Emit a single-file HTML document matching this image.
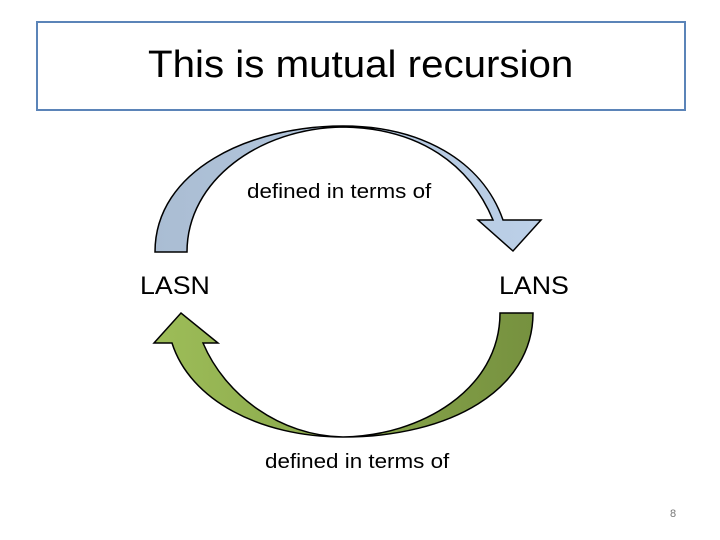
<!DOCTYPE html>
<html><head><style>
body{margin:0;width:720px;height:540px;background:#fff;position:relative;overflow:hidden;font-family:"Liberation Sans",sans-serif}
.t{position:absolute;white-space:nowrap;transform-origin:0 0}
</style></head><body>
<div style="position:absolute;left:36px;top:21px;width:646px;height:86px;border:2.5px solid #5b84b8"></div>
<div class="t" style="left:148px;top:44px;font-size:38px;color:#000;transform:scaleX(1.06)">This is mutual recursion</div>
<svg width="720" height="540" style="position:absolute;left:0;top:0">
<defs>
<linearGradient id="b" x1="0" x2="1"><stop offset="0" stop-color="#aabdd3"/><stop offset="1" stop-color="#bcd0e8"/></linearGradient>
<linearGradient id="g" x1="0" x2="1"><stop offset="0" stop-color="#9dbd58"/><stop offset="1" stop-color="#76913f"/></linearGradient>
</defs>
<path d="M155,252 C155,170 250,126 343,126 C420,126 482,160 503,220 L541,220 L513,251 L478,220 L493,220 C470,165 420,128 343,127 C260,128 187,180 187,252 Z" fill="url(#b)" stroke="#000" stroke-width="1.5"/>
<path d="M500,313 L533,313 C533,390 450,437 343,437 C260,437 190,400 172,343 L154,343 L181,313 L218,343 L203,343 C225,395 280,436 343,437 C420,436 500,390 500,313 Z" fill="url(#g)" stroke="#000" stroke-width="1.5"/>
</svg>
<div class="t" style="left:247px;top:181px;font-size:20px;transform:scaleX(1.12)">defined in terms of</div>
<div class="t" style="left:140px;top:272px;font-size:25px;transform:scaleX(1.07)">LASN</div>
<div class="t" style="left:499px;top:272px;font-size:25px;transform:scaleX(1.07)">LANS</div>
<div class="t" style="left:265px;top:451px;font-size:20px;transform:scaleX(1.12)">defined in terms of</div>
<div class="t" style="left:670px;top:508px;font-size:11px;color:#777">8</div>
</body></html>
